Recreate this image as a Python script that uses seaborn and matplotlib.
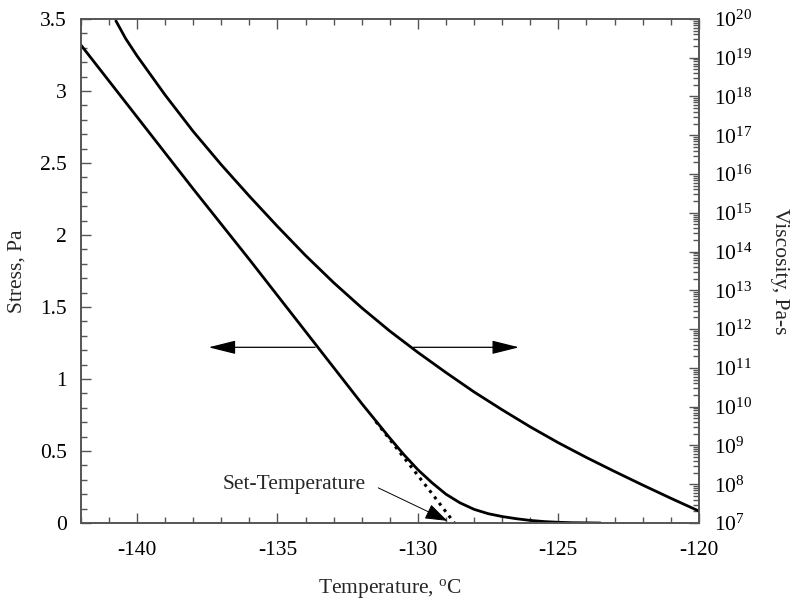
import matplotlib
matplotlib.use("Agg")
import matplotlib.pyplot as plt
import matplotlib.ticker as mticker
import numpy as np
import pandas as pd
import seaborn as sns

# stress curve (solid)
stress_temp = [-142, -140, -138, -136, -134, -133, -132, -131.5, -131, -130.5, -130,
               -129.5, -129, -128.5, -128, -127.5, -127, -126.5, -126, -125.5, -125,
               -124.5, -124, -123.5]
stress_val = [3.32, 2.82, 2.32, 1.83, 1.33, 1.08, 0.83, 0.71, 0.59, 0.475, 0.37,
              0.28, 0.20, 0.14, 0.095, 0.065, 0.045, 0.03, 0.018, 0.01, 0.005,
              0.002, 0.001, 0.0]

# linear extrapolation of stress (dotted)
extrap_temp = [-131.5, -130.5, -129.5, -128.7]
extrap_val = [0.705, 0.455, 0.205, 0.0]

# viscosity curve, log10(Pa-s)
visc_temp = [-140.75, -140.4, -140, -139, -138, -137, -136, -135, -134, -133, -132,
             -131, -130, -129, -128, -127, -126, -125, -124, -123, -122, -121, -120]
visc_log = [19.95, 19.49, 19.05, 18.04, 17.10, 16.24, 15.43, 14.65, 13.90, 13.20, 12.55,
            11.95, 11.40, 10.88, 10.38, 9.92, 9.48, 9.07, 8.69, 8.33, 7.98, 7.64, 7.31]

x_ticks = [-140, -135, -130, -125, -120]
stress_ticks = [0, 0.5, 1, 1.5, 2, 2.5, 3, 3.5]

sns.set_style("ticks")
plt.rcParams["font.family"] = ["Liberation Serif", "DejaVu Serif"]
plt.rcParams["mathtext.fontset"] = "custom"
plt.rcParams["mathtext.rm"] = "Liberation Serif"
plt.rcParams["mathtext.it"] = "Liberation Serif:italic"
plt.rcParams["axes.unicode_minus"] = False
plt.rcParams["font.size"] = 15.5

axis_col = "#555555"

fig = plt.figure(figsize=(8, 6.11), dpi=100)
ax = fig.add_axes([0.101, 0.144, 0.7725, 0.825])
ax2 = ax.twinx()

stress_df = pd.DataFrame({"T": stress_temp, "s": stress_val})
extrap_df = pd.DataFrame({"T": extrap_temp, "s": extrap_val})
visc_df = pd.DataFrame({"T": visc_temp, "v": [10.0 ** v for v in visc_log]})

sns.lineplot(data=stress_df, x="T", y="s", ax=ax, color="black", lw=2,
             sort=False, estimator=None)
sns.lineplot(data=extrap_df, x="T", y="s", ax=ax, color="black", lw=2.2,
             linestyle=(0, (1, 1.6)), sort=False, estimator=None)
sns.lineplot(data=visc_df, x="T", y="v", ax=ax2, color="black", lw=2,
             sort=False, estimator=None)

ax.set_xlim(-142, -120)
ax.set_ylim(0, 3.5)
ax2.set_yscale("log")
ax2.set_ylim(1e7, 1e20)

ax.set_xticks(x_ticks)
ax.set_yticks(stress_ticks)
ax.set_yticklabels(["0", "0.5", "1", "1.5", "2", "2.5", "3", "3.5"])
ax.xaxis.set_minor_locator(mticker.MultipleLocator(1))
ax.yaxis.set_minor_locator(mticker.MultipleLocator(0.1))
ax2.yaxis.set_major_locator(mticker.LogLocator(base=10, numticks=20))
ax2.yaxis.set_minor_locator(mticker.LogLocator(base=10, subs=np.arange(2, 10), numticks=20))
ax2.yaxis.set_minor_formatter(mticker.NullFormatter())

ax.tick_params(axis="both", which="both", direction="in", colors=axis_col,
               labelcolor="black", labelsize=15.5)
ax.tick_params(axis="x", which="both", top=True, pad=13)
ax.tick_params(axis="y", which="both", right=False, pad=10)
ax.tick_params(which="major", length=7, width=1)
ax.tick_params(which="minor", length=4, width=1)
ax2.tick_params(axis="y", which="both", direction="in", colors=axis_col,
                labelcolor="black", labelsize=15.5, pad=11)
ax2.tick_params(which="major", length=7, width=1)
ax2.tick_params(which="minor", length=4, width=1)

for a in (ax, ax2):
    for sp in a.spines.values():
        sp.set_visible(True)
        sp.set_color(axis_col)
        sp.set_linewidth(1.2)

ax.set_xlabel(r"Temperature, $^\mathrm{o}$C", fontsize=15.5, labelpad=12)
ax.set_ylabel("Stress, Pa", fontsize=15.5, labelpad=10)
ax2.set_ylabel("Viscosity, Pa-s", fontsize=15.5, rotation=270, labelpad=26)

# direction arrows
arrow_y = 1.22
head = "-|>,head_length=1.2,head_width=0.3"
ax.annotate("", xy=(-137.45, arrow_y), xytext=(-133.66, arrow_y),
            arrowprops=dict(arrowstyle=head, color="black", lw=0.9,
                            mutation_scale=14, shrinkA=0, shrinkB=0))
ax.annotate("", xy=(-126.4, arrow_y), xytext=(-130.16, arrow_y),
            arrowprops=dict(arrowstyle=head, color="black", lw=0.9,
                            mutation_scale=14, shrinkA=0, shrinkB=0))

# set-temperature label
ax.text(-134.4, 0.27, "Set-Temperature", ha="center", va="center", fontsize=15.5)
ax.annotate("", xy=(-128.95, 0.015), xytext=(-131.41, 0.244),
            arrowprops=dict(arrowstyle="-|>,head_length=1.0,head_width=0.35",
                            color="black", lw=0.7, mutation_scale=14,
                            shrinkA=0, shrinkB=0))

fig.savefig("out.png", dpi=100)
